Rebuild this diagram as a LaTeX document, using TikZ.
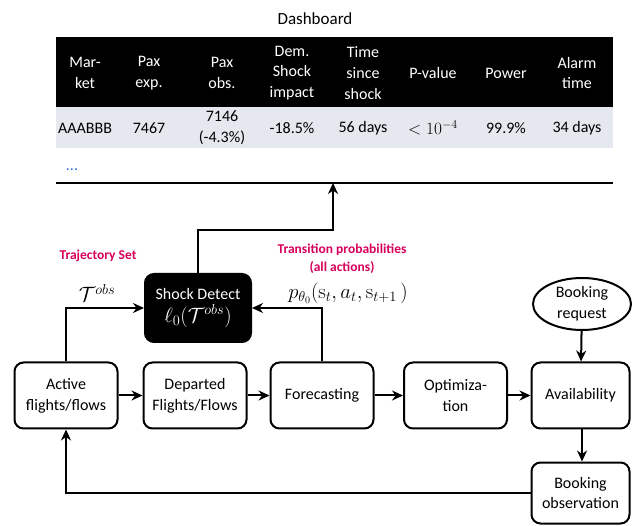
\documentclass[tikz,border=0pt]{standalone}
\usepackage[no-math]{fontspec}
\setmainfont{Carlito}
\usepackage{amsmath}
\usepackage{amssymb}
\usetikzlibrary{shapes.geometric, arrows.meta, positioning, calc}

\definecolor{labelred}{HTML}{D6005C}
\definecolor{rowgray}{HTML}{E6E8F0}
\definecolor{dotblue}{HTML}{2F6FD0}

\begin{document}
\begin{tikzpicture}[x=1pt, y=-1pt, >={Stealth[length=11pt, width=10pt]},
		every node/.style={font=\fontsize{16}{20.7}\selectfont, align=center, inner sep=1pt},
		proc/.style={draw, rectangle, rounded corners=9pt, line width=2pt, minimum width=103pt, minimum height=66pt},
		headcell/.style={text=white},
		mathlabel/.style={font=\fontsize{20}{24}\selectfont},
		redlabel/.style={text=labelred, font=\fontsize{13.5}{17.5}\selectfont\bfseries},
		flow/.style={->, line width=2pt}]
	\useasboundingbox (0,0) rectangle (632,526);

	% dashboard table
	\node (title) at (315,19) {\fontsize{17}{20}\selectfont Dashboard};
	\fill[black] (56,37) rectangle (613,107);
	\fill[rowgray] (56,107) rectangle (613,148);
	\foreach \cx/\head/\val [count=\i] in {85/{Mar-\\ket}/AAABBB, 149/{Pax\\exp.}/7467,
			222/{Pax\\obs.}/{7146\\(-4.3\%)}, 292/{Dem.\\Shock\\impact}/-18.5\%,
			363/{Time\\since\\shock}/56 days, 433/P-value/{\fontsize{18}{20}\selectfont$<10^{-4}$},
			506/Power/99.9\%, 577/{Alarm\\time}/34 days}
	{
		\node[headcell] (head\i) at (\cx,73) {\head};
		\node (val\i) at (\cx,128) {\val};
	}
	\node[text=dotblue] (more) at (72,170) {...};
	\draw[line width=2pt] (56,183) -- (613,183);
	\coordinate (dash) at (333,183);

	% process chain
	\node[proc] (active) at (66,395.5) {Active\\flights/flows};
	\node[proc] (departed) at (195,395.5) {Departed\\Flights/Flows};
	\node[proc] (forecast) at (322,395.5) {Forecasting};
	\node[proc] (optim) at (455.5,395.5) {Optimiza-\\tion};
	\node[proc, minimum width=98pt] (avail) at (580.5,395.5) {Availability};
	\node[proc, minimum width=98pt, minimum height=61pt] (bookobs) at (580.5,493) {Booking\\observation};
	\node[draw, ellipse, line width=2pt, minimum width=98pt, minimum height=52pt, inner sep=0pt] (bookreq) at (582,304) {Booking\\request};

	\node[proc, fill=black, text=white, minimum width=106pt, minimum height=68pt] (shock) at (198,308)
		{Shock Detect\\[2pt] \fontsize{20}{22}\selectfont$\ell_0(\mathcal{T}^{obs})$};

	\draw[flow] (active) -- (departed);
	\draw[flow] (departed) -- (forecast);
	\draw[flow] (forecast) -- (optim);
	\draw[flow] (optim) -- (avail);
	\draw[flow] (bookreq) -- (avail);
	\draw[flow] (avail.south -| 582,0) -- (bookobs.north -| 582,0);
	\draw[flow] (bookobs.west) -| (active.south);

	\draw[flow] (active.north) |- (shock.west);
	\draw[flow] (forecast.north) |- (shock.east);
	\draw[flow] (shock.north) |- (333,230) -- (dash);

	% labels
	\node[mathlabel] (tobs) at (97,293) {$\mathcal{T}^{obs}$};
	\node[mathlabel] (ptheta) at (348,293) {$p_{\theta_0}(\mathrm{s}_t, a_t, \mathrm{s}_{t+1}\,)$};
	\node[redlabel] (trajset) at (98,256) {Trajectory Set};
	\node[redlabel] (transprob) at (342,259) {Transition probabilities\\(all actions)};
\end{tikzpicture}
\end{document}
